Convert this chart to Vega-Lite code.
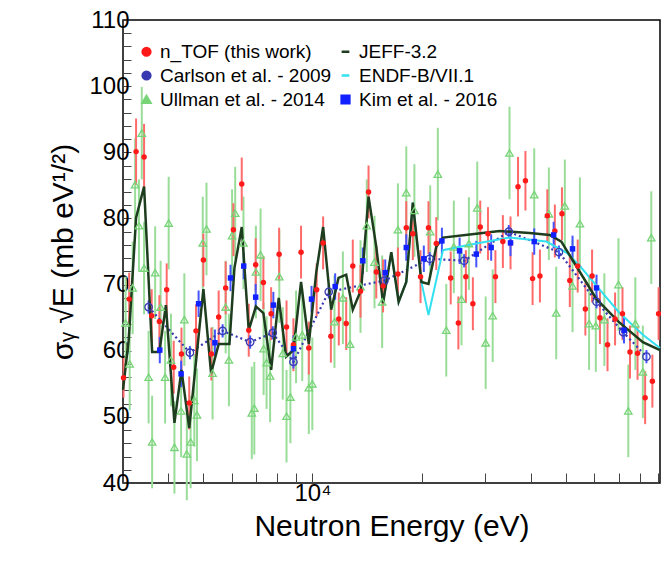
{
  "$schema": "https://vega.github.io/schema/vega-lite/v6.json",
  "width": 537,
  "height": 463,
  "autosize": "none",
  "padding": {"left": 123, "top": 20, "right": 1, "bottom": 83},
  "background": "white",
  "config": {
    "view": {"stroke": "black", "strokeWidth": 1.5},
    "font": "Liberation Sans"
  },
  "datasets": {
    "pts": [
      {"s": "n_TOF (this work)", "E": 3010, "v": 55.9, "e": 3},
      {"s": "n_TOF (this work)", "E": 3120, "v": 67.8, "e": 4},
      {"s": "n_TOF (this work)", "E": 3260, "v": 90.1, "e": 5},
      {"s": "n_TOF (this work)", "E": 3430, "v": 89.3, "e": 5},
      {"s": "n_TOF (this work)", "E": 3600, "v": 65.3, "e": 4},
      {"s": "n_TOF (this work)", "E": 3780, "v": 64.4, "e": 4},
      {"s": "n_TOF (this work)", "E": 3960, "v": 69.2, "e": 4},
      {"s": "n_TOF (this work)", "E": 4140, "v": 57.5, "e": 4},
      {"s": "n_TOF (this work)", "E": 4350, "v": 59.5, "e": 4},
      {"s": "n_TOF (this work)", "E": 4570, "v": 52.1, "e": 4},
      {"s": "n_TOF (this work)", "E": 4770, "v": 63.0, "e": 4},
      {"s": "n_TOF (this work)", "E": 5000, "v": 73.7, "e": 4},
      {"s": "n_TOF (this work)", "E": 5260, "v": 59.5, "e": 4},
      {"s": "n_TOF (this work)", "E": 5510, "v": 65.1, "e": 4},
      {"s": "n_TOF (this work)", "E": 5760, "v": 69.5, "e": 4},
      {"s": "n_TOF (this work)", "E": 6050, "v": 78.3, "e": 4},
      {"s": "n_TOF (this work)", "E": 6380, "v": 85.2, "e": 4},
      {"s": "n_TOF (this work)", "E": 6670, "v": 63.1, "e": 4},
      {"s": "n_TOF (this work)", "E": 6970, "v": 73.0, "e": 4},
      {"s": "n_TOF (this work)", "E": 7320, "v": 70.3, "e": 4},
      {"s": "n_TOF (this work)", "E": 7690, "v": 65.6, "e": 4},
      {"s": "n_TOF (this work)", "E": 8090, "v": 74.6, "e": 4},
      {"s": "n_TOF (this work)", "E": 8480, "v": 63.6, "e": 4},
      {"s": "n_TOF (this work)", "E": 8860, "v": 60.9, "e": 4},
      {"s": "n_TOF (this work)", "E": 9300, "v": 74.9, "e": 4},
      {"s": "n_TOF (this work)", "E": 9770, "v": 60.4, "e": 4},
      {"s": "n_TOF (this work)", "E": 10270, "v": 69.2, "e": 4},
      {"s": "n_TOF (this work)", "E": 10700, "v": 76.3, "e": 4},
      {"s": "n_TOF (this work)", "E": 11240, "v": 62.2, "e": 4},
      {"s": "n_TOF (this work)", "E": 11820, "v": 64.8, "e": 4},
      {"s": "n_TOF (this work)", "E": 12390, "v": 64.1, "e": 4},
      {"s": "n_TOF (this work)", "E": 12920, "v": 72.8, "e": 4},
      {"s": "n_TOF (this work)", "E": 13570, "v": 69.0, "e": 4},
      {"s": "n_TOF (this work)", "E": 14280, "v": 84.0, "e": 4},
      {"s": "n_TOF (this work)", "E": 15000, "v": 71.9, "e": 4},
      {"s": "n_TOF (this work)", "E": 15660, "v": 69.8, "e": 4},
      {"s": "n_TOF (this work)", "E": 17210, "v": 71.6, "e": 4},
      {"s": "n_TOF (this work)", "E": 18150, "v": 78.6, "e": 4},
      {"s": "n_TOF (this work)", "E": 18920, "v": 77.7, "e": 4},
      {"s": "n_TOF (this work)", "E": 19870, "v": 71.2, "e": 4},
      {"s": "n_TOF (this work)", "E": 20900, "v": 78.6, "e": 4},
      {"s": "n_TOF (this work)", "E": 21960, "v": 76.2, "e": 4},
      {"s": "n_TOF (this work)", "E": 24070, "v": 71.0, "e": 4},
      {"s": "n_TOF (this work)", "E": 25270, "v": 64.2, "e": 4},
      {"s": "n_TOF (this work)", "E": 26500, "v": 71.2, "e": 4},
      {"s": "n_TOF (this work)", "E": 27710, "v": 67.1, "e": 4},
      {"s": "n_TOF (this work)", "E": 29040, "v": 78.7, "e": 4},
      {"s": "n_TOF (this work)", "E": 30500, "v": 77.7, "e": 4},
      {"s": "n_TOF (this work)", "E": 31980, "v": 71.2, "e": 4},
      {"s": "n_TOF (this work)", "E": 33530, "v": 76.5, "e": 4},
      {"s": "n_TOF (this work)", "E": 35200, "v": 76.3, "e": 4},
      {"s": "n_TOF (this work)", "E": 36920, "v": 84.8, "e": 4.5},
      {"s": "n_TOF (this work)", "E": 38700, "v": 85.7, "e": 4.5},
      {"s": "n_TOF (this work)", "E": 40500, "v": 70.9, "e": 4},
      {"s": "n_TOF (this work)", "E": 42430, "v": 71.3, "e": 4},
      {"s": "n_TOF (this work)", "E": 44470, "v": 80.4, "e": 4},
      {"s": "n_TOF (this work)", "E": 46650, "v": 78.1, "e": 4},
      {"s": "n_TOF (this work)", "E": 48800, "v": 80.7, "e": 4},
      {"s": "n_TOF (this work)", "E": 51300, "v": 70.6, "e": 4},
      {"s": "n_TOF (this work)", "E": 53940, "v": 72.8, "e": 4},
      {"s": "n_TOF (this work)", "E": 56630, "v": 66.3, "e": 4},
      {"s": "n_TOF (this work)", "E": 59100, "v": 71.3, "e": 4},
      {"s": "n_TOF (this work)", "E": 62130, "v": 65.0, "e": 4},
      {"s": "n_TOF (this work)", "E": 65200, "v": 60.9, "e": 4},
      {"s": "n_TOF (this work)", "E": 68400, "v": 64.8, "e": 4},
      {"s": "n_TOF (this work)", "E": 71700, "v": 65.6, "e": 4},
      {"s": "n_TOF (this work)", "E": 75200, "v": 59.8, "e": 4},
      {"s": "n_TOF (this work)", "E": 78900, "v": 59.6, "e": 4},
      {"s": "n_TOF (this work)", "E": 82800, "v": 52.9, "e": 4},
      {"s": "n_TOF (this work)", "E": 86700, "v": 55.4, "e": 4},
      {"s": "n_TOF (this work)", "E": 90200, "v": 65.6, "e": 4},

      {"s": "Ullman et al. - 2014", "E": 3050, "v": 64.2, "e": 7},
      {"s": "Ullman et al. - 2014", "E": 3130, "v": 58.0, "e": 7},
      {"s": "Ullman et al. - 2014", "E": 3190, "v": 69.5, "e": 7},
      {"s": "Ullman et al. - 2014", "E": 3240, "v": 85.1, "e": 7},
      {"s": "Ullman et al. - 2014", "E": 3320, "v": 78.9, "e": 7},
      {"s": "Ullman et al. - 2014", "E": 3380, "v": 92.9, "e": 7},
      {"s": "Ullman et al. - 2014", "E": 3430, "v": 72.5, "e": 7},
      {"s": "Ullman et al. - 2014", "E": 3530, "v": 56.0, "e": 7},
      {"s": "Ullman et al. - 2014", "E": 3610, "v": 46.2, "e": 7},
      {"s": "Ullman et al. - 2014", "E": 3680, "v": 71.8, "e": 7},
      {"s": "Ullman et al. - 2014", "E": 3810, "v": 66.6, "e": 7},
      {"s": "Ullman et al. - 2014", "E": 3920, "v": 56.0, "e": 7},
      {"s": "Ullman et al. - 2014", "E": 4010, "v": 79.3, "e": 7},
      {"s": "Ullman et al. - 2014", "E": 4070, "v": 58.6, "e": 7},
      {"s": "Ullman et al. - 2014", "E": 4160, "v": 45.4, "e": 7},
      {"s": "Ullman et al. - 2014", "E": 4340, "v": 50.9, "e": 7},
      {"s": "Ullman et al. - 2014", "E": 4430, "v": 64.7, "e": 7},
      {"s": "Ullman et al. - 2014", "E": 4500, "v": 44.4, "e": 7},
      {"s": "Ullman et al. - 2014", "E": 4610, "v": 46.2, "e": 7},
      {"s": "Ullman et al. - 2014", "E": 4720, "v": 52.5, "e": 7},
      {"s": "Ullman et al. - 2014", "E": 4800, "v": 50.3, "e": 7},
      {"s": "Ullman et al. - 2014", "E": 4980, "v": 76.3, "e": 7},
      {"s": "Ullman et al. - 2014", "E": 5100, "v": 78.4, "e": 7},
      {"s": "Ullman et al. - 2014", "E": 5300, "v": 56.6, "e": 7},
      {"s": "Ullman et al. - 2014", "E": 5760, "v": 66.6, "e": 7},
      {"s": "Ullman et al. - 2014", "E": 5880, "v": 58.6, "e": 7},
      {"s": "Ullman et al. - 2014", "E": 6000, "v": 77.4, "e": 7},
      {"s": "Ullman et al. - 2014", "E": 6120, "v": 80.8, "e": 7},
      {"s": "Ullman et al. - 2014", "E": 6450, "v": 76.3, "e": 7},
      {"s": "Ullman et al. - 2014", "E": 6800, "v": 50.6, "e": 7},
      {"s": "Ullman et al. - 2014", "E": 6910, "v": 51.3, "e": 7},
      {"s": "Ullman et al. - 2014", "E": 6980, "v": 71.9, "e": 7},
      {"s": "Ullman et al. - 2014", "E": 7190, "v": 74.5, "e": 7},
      {"s": "Ullman et al. - 2014", "E": 7330, "v": 60.3, "e": 7},
      {"s": "Ullman et al. - 2014", "E": 7470, "v": 58.2, "e": 7},
      {"s": "Ullman et al. - 2014", "E": 7640, "v": 56.2, "e": 7},
      {"s": "Ullman et al. - 2014", "E": 8100, "v": 71.2, "e": 7},
      {"s": "Ullman et al. - 2014", "E": 8280, "v": 59.6, "e": 7},
      {"s": "Ullman et al. - 2014", "E": 8480, "v": 50.1, "e": 7},
      {"s": "Ullman et al. - 2014", "E": 8690, "v": 53.0, "e": 7},
      {"s": "Ullman et al. - 2014", "E": 9010, "v": 62.1, "e": 7},
      {"s": "Ullman et al. - 2014", "E": 9370, "v": 62.4, "e": 7},
      {"s": "Ullman et al. - 2014", "E": 9770, "v": 54.4, "e": 7},
      {"s": "Ullman et al. - 2014", "E": 9990, "v": 55.0, "e": 7},
      {"s": "Ullman et al. - 2014", "E": 11500, "v": 64.4, "e": 7},
      {"s": "Ullman et al. - 2014", "E": 12130, "v": 68.0, "e": 7},
      {"s": "Ullman et al. - 2014", "E": 12700, "v": 61.0, "e": 7},
      {"s": "Ullman et al. - 2014", "E": 13570, "v": 69.7, "e": 7},
      {"s": "Ullman et al. - 2014", "E": 14120, "v": 78.9, "e": 7},
      {"s": "Ullman et al. - 2014", "E": 14830, "v": 73.4, "e": 7},
      {"s": "Ullman et al. - 2014", "E": 15570, "v": 67.4, "e": 7},
      {"s": "Ullman et al. - 2014", "E": 17210, "v": 78.3, "e": 7},
      {"s": "Ullman et al. - 2014", "E": 18150, "v": 83.9, "e": 7},
      {"s": "Ullman et al. - 2014", "E": 19110, "v": 81.2, "e": 7},
      {"s": "Ullman et al. - 2014", "E": 21130, "v": 78.0, "e": 7},
      {"s": "Ullman et al. - 2014", "E": 22180, "v": 86.7, "e": 7},
      {"s": "Ullman et al. - 2014", "E": 23400, "v": 63.1, "e": 7},
      {"s": "Ullman et al. - 2014", "E": 24550, "v": 75.7, "e": 7},
      {"s": "Ullman et al. - 2014", "E": 25780, "v": 67.8, "e": 7},
      {"s": "Ullman et al. - 2014", "E": 27020, "v": 76.2, "e": 7},
      {"s": "Ullman et al. - 2014", "E": 28490, "v": 81.6, "e": 7},
      {"s": "Ullman et al. - 2014", "E": 30060, "v": 61.2, "e": 7},
      {"s": "Ullman et al. - 2014", "E": 31430, "v": 65.3, "e": 7},
      {"s": "Ullman et al. - 2014", "E": 34970, "v": 89.9, "e": 7},
      {"s": "Ullman et al. - 2014", "E": 40920, "v": 83.6, "e": 7},
      {"s": "Ullman et al. - 2014", "E": 44910, "v": 80.7, "e": 7},
      {"s": "Ullman et al. - 2014", "E": 47060, "v": 65.7, "e": 7},
      {"s": "Ullman et al. - 2014", "E": 49700, "v": 81.9, "e": 7},
      {"s": "Ullman et al. - 2014", "E": 52200, "v": 69.8, "e": 7},
      {"s": "Ullman et al. - 2014", "E": 54700, "v": 79.2, "e": 7},
      {"s": "Ullman et al. - 2014", "E": 57990, "v": 64.1, "e": 7},
      {"s": "Ullman et al. - 2014", "E": 60520, "v": 63.8, "e": 7},
      {"s": "Ullman et al. - 2014", "E": 63900, "v": 64.7, "e": 7},
      {"s": "Ullman et al. - 2014", "E": 69890, "v": 70.0, "e": 7},
      {"s": "Ullman et al. - 2014", "E": 74400, "v": 50.9, "e": 7},
      {"s": "Ullman et al. - 2014", "E": 77800, "v": 64.1, "e": 7},
      {"s": "Ullman et al. - 2014", "E": 81600, "v": 56.8, "e": 7},
      {"s": "Ullman et al. - 2014", "E": 86100, "v": 77.1, "e": 7},

      {"s": "Kim et al. - 2016", "E": 3790, "v": 60.1, "e": 2},
      {"s": "Kim et al. - 2016", "E": 4340, "v": 56.5, "e": 2},
      {"s": "Kim et al. - 2016", "E": 4850, "v": 67.1, "e": 2},
      {"s": "Kim et al. - 2016", "E": 5380, "v": 61.2, "e": 2},
      {"s": "Kim et al. - 2016", "E": 5940, "v": 71.0, "e": 2},
      {"s": "Kim et al. - 2016", "E": 6460, "v": 72.8, "e": 2},
      {"s": "Kim et al. - 2016", "E": 6970, "v": 68.1, "e": 2},
      {"s": "Kim et al. - 2016", "E": 7800, "v": 66.9, "e": 2},
      {"s": "Kim et al. - 2016", "E": 8860, "v": 60.3, "e": 2},
      {"s": "Kim et al. - 2016", "E": 9940, "v": 67.8, "e": 2},
      {"s": "Kim et al. - 2016", "E": 11550, "v": 69.7, "e": 2},
      {"s": "Kim et al. - 2016", "E": 13770, "v": 73.6, "e": 2},
      {"s": "Kim et al. - 2016", "E": 15880, "v": 71.8, "e": 2},
      {"s": "Kim et al. - 2016", "E": 18150, "v": 75.6, "e": 2},
      {"s": "Kim et al. - 2016", "E": 20290, "v": 73.9, "e": 2},
      {"s": "Kim et al. - 2016", "E": 22760, "v": 76.6, "e": 2},
      {"s": "Kim et al. - 2016", "E": 25470, "v": 75.1, "e": 2},
      {"s": "Kim et al. - 2016", "E": 28320, "v": 74.6, "e": 2},
      {"s": "Kim et al. - 2016", "E": 31130, "v": 75.6, "e": 2},
      {"s": "Kim et al. - 2016", "E": 35200, "v": 76.3, "e": 2},
      {"s": "Kim et al. - 2016", "E": 40920, "v": 76.5, "e": 2},
      {"s": "Kim et al. - 2016", "E": 46300, "v": 77.5, "e": 2},
      {"s": "Kim et al. - 2016", "E": 52200, "v": 75.4, "e": 2},
      {"s": "Kim et al. - 2016", "E": 60800, "v": 69.5, "e": 2},
      {"s": "Kim et al. - 2016", "E": 72400, "v": 63.1, "e": 2},

      {"s": "Carlson et al. - 2009", "E": 3530, "v": 66.6, "e": 1},
      {"s": "Carlson et al. - 2009", "E": 4590, "v": 59.7, "e": 1},
      {"s": "Carlson et al. - 2009", "E": 5650, "v": 63.0, "e": 1},
      {"s": "Carlson et al. - 2009", "E": 6730, "v": 61.3, "e": 1},
      {"s": "Carlson et al. - 2009", "E": 7770, "v": 62.7, "e": 1},
      {"s": "Carlson et al. - 2009", "E": 8860, "v": 58.3, "e": 1},
      {"s": "Carlson et al. - 2009", "E": 11090, "v": 68.9, "e": 1},
      {"s": "Carlson et al. - 2009", "E": 15800, "v": 70.6, "e": 1},
      {"s": "Carlson et al. - 2009", "E": 21060, "v": 73.9, "e": 1},
      {"s": "Carlson et al. - 2009", "E": 26210, "v": 73.6, "e": 1},
      {"s": "Carlson et al. - 2009", "E": 34810, "v": 78.0, "e": 1},
      {"s": "Carlson et al. - 2009", "E": 47880, "v": 74.9, "e": 1},
      {"s": "Carlson et al. - 2009", "E": 60800, "v": 67.4, "e": 1},
      {"s": "Carlson et al. - 2009", "E": 72000, "v": 62.8, "e": 1},
      {"s": "Carlson et al. - 2009", "E": 83500, "v": 59.1, "e": 1}
    ],
    "lines": [
      {"s": "JEFF-3.2", "E": 3000, "v": 54.1},
      {"s": "JEFF-3.2", "E": 3110, "v": 61.6},
      {"s": "JEFF-3.2", "E": 3260, "v": 80.1},
      {"s": "JEFF-3.2", "E": 3430, "v": 84.8},
      {"s": "JEFF-3.2", "E": 3610, "v": 59.8},
      {"s": "JEFF-3.2", "E": 3780, "v": 59.8},
      {"s": "JEFF-3.2", "E": 3940, "v": 66.9},
      {"s": "JEFF-3.2", "E": 4160, "v": 49.1},
      {"s": "JEFF-3.2", "E": 4350, "v": 57.1},
      {"s": "JEFF-3.2", "E": 4570, "v": 48.3},
      {"s": "JEFF-3.2", "E": 4800, "v": 59.8},
      {"s": "JEFF-3.2", "E": 5000, "v": 69.3},
      {"s": "JEFF-3.2", "E": 5250, "v": 56.6},
      {"s": "JEFF-3.2", "E": 5510, "v": 61.0},
      {"s": "JEFF-3.2", "E": 5900, "v": 61.0},
      {"s": "JEFF-3.2", "E": 6090, "v": 72.5},
      {"s": "JEFF-3.2", "E": 6380, "v": 78.7},
      {"s": "JEFF-3.2", "E": 6670, "v": 63.1},
      {"s": "JEFF-3.2", "E": 6980, "v": 66.7},
      {"s": "JEFF-3.2", "E": 7320, "v": 65.7},
      {"s": "JEFF-3.2", "E": 7690, "v": 57.1},
      {"s": "JEFF-3.2", "E": 8070, "v": 68.0},
      {"s": "JEFF-3.2", "E": 8460, "v": 59.1},
      {"s": "JEFF-3.2", "E": 8860, "v": 60.1},
      {"s": "JEFF-3.2", "E": 9300, "v": 70.4},
      {"s": "JEFF-3.2", "E": 9770, "v": 61.0},
      {"s": "JEFF-3.2", "E": 10240, "v": 71.8},
      {"s": "JEFF-3.2", "E": 10700, "v": 78.7},
      {"s": "JEFF-3.2", "E": 11260, "v": 66.2},
      {"s": "JEFF-3.2", "E": 11800, "v": 71.0},
      {"s": "JEFF-3.2", "E": 12390, "v": 71.5},
      {"s": "JEFF-3.2", "E": 12920, "v": 66.2},
      {"s": "JEFF-3.2", "E": 13620, "v": 69.2},
      {"s": "JEFF-3.2", "E": 14280, "v": 83.3},
      {"s": "JEFF-3.2", "E": 15000, "v": 75.7},
      {"s": "JEFF-3.2", "E": 15660, "v": 67.2},
      {"s": "JEFF-3.2", "E": 16500, "v": 74.9},
      {"s": "JEFF-3.2", "E": 17290, "v": 67.4},
      {"s": "JEFF-3.2", "E": 18150, "v": 70.4},
      {"s": "JEFF-3.2", "E": 18920, "v": 82.4},
      {"s": "JEFF-3.2", "E": 19980, "v": 70.4},
      {"s": "JEFF-3.2", "E": 20900, "v": 70.1},
      {"s": "JEFF-3.2", "E": 21960, "v": 75.7},
      {"s": "JEFF-3.2", "E": 22910, "v": 77.1},
      {"s": "JEFF-3.2", "E": 28320, "v": 77.7},
      {"s": "JEFF-3.2", "E": 32830, "v": 78.1},
      {"s": "JEFF-3.2", "E": 39720, "v": 77.8},
      {"s": "JEFF-3.2", "E": 45170, "v": 77.5},
      {"s": "JEFF-3.2", "E": 48620, "v": 76.5},
      {"s": "JEFF-3.2", "E": 54700, "v": 71.9},
      {"s": "JEFF-3.2", "E": 60800, "v": 67.8},
      {"s": "JEFF-3.2", "E": 69890, "v": 64.4},
      {"s": "JEFF-3.2", "E": 81600, "v": 61.3},
      {"s": "JEFF-3.2", "E": 91000, "v": 60.1},
      {"s": "ENDF-B/VII.1", "E": 15660, "v": 67.2},
      {"s": "ENDF-B/VII.1", "E": 16500, "v": 74.9},
      {"s": "ENDF-B/VII.1", "E": 17290, "v": 67.4},
      {"s": "ENDF-B/VII.1", "E": 18150, "v": 70.4},
      {"s": "ENDF-B/VII.1", "E": 18920, "v": 82.4},
      {"s": "ENDF-B/VII.1", "E": 19980, "v": 70.4},
      {"s": "ENDF-B/VII.1", "E": 20900, "v": 65.4},
      {"s": "ENDF-B/VII.1", "E": 22910, "v": 75.2},
      {"s": "ENDF-B/VII.1", "E": 28320, "v": 76.2},
      {"s": "ENDF-B/VII.1", "E": 34970, "v": 77.1},
      {"s": "ENDF-B/VII.1", "E": 44200, "v": 76.5},
      {"s": "ENDF-B/VII.1", "E": 50300, "v": 74.8},
      {"s": "ENDF-B/VII.1", "E": 54700, "v": 72.8},
      {"s": "ENDF-B/VII.1", "E": 62130, "v": 69.2},
      {"s": "ENDF-B/VII.1", "E": 69890, "v": 65.9},
      {"s": "ENDF-B/VII.1", "E": 81600, "v": 62.4},
      {"s": "ENDF-B/VII.1", "E": 91000, "v": 60.4}
    ]
  },
  "encoding": {
    "x": {
      "field": "E", "type": "quantitative",
      "scale": {"type": "log", "domain": [3000, 91000], "nice": false},
      "title": "Neutron Energy (eV)",
      "axis": {
        "values": [3000, 4000, 5000, 6000, 7000, 8000, 9000, 10000, 20000, 30000, 40000, 50000, 60000, 70000, 80000, 90000],
        "labelExpr": "datum.value == 10000 ? '10⁴' : ''",
        "labelFontSize": 24, "labelColor": "black", "labelPadding": 8,
        "tickSize": -10, "tickColor": "#444", "domain": false, "grid": false,
        "titleFontSize": 30, "titleFontWeight": "normal", "titleColor": "black", "titlePadding": 6
      }
    },
    "y": {
      "field": "v", "type": "quantitative",
      "scale": {"domain": [40, 110], "nice": false, "zero": false},
      "title": "σᵧ √E (mb eV¹/²)",
      "axis": {
        "values": [40, 42, 44, 46, 48, 50, 52, 54, 56, 58, 60, 62, 64, 66, 68, 70, 72, 74, 76, 78, 80, 82, 84, 86, 88, 90, 92, 94, 96, 98, 100, 102, 104, 106, 108, 110],
        "labelExpr": "datum.value % 10 == 0 ? datum.value : ''",
        "labelFontSize": 24, "labelColor": "black", "labelPadding": 2,
        "tickSize": -8, "tickColor": "#444", "domain": false, "grid": false,
        "titleFontSize": 30, "titleFontWeight": "normal", "titleColor": "black", "titlePadding": 10
      }
    }
  },
  "layer": [
    {
      "data": {"name": "pts"},
      "transform": [{"filter": "datum.s == 'Ullman et al. - 2014'"}],
      "mark": {"type": "errorbar", "color": "#99dd99", "thickness": 2},
      "encoding": {"yError": {"field": "e"}}
    },
    {
      "data": {"name": "pts"},
      "transform": [{"filter": "datum.s == 'n_TOF (this work)'"}],
      "mark": {"type": "errorbar", "color": "#ff6a6a", "thickness": 2},
      "encoding": {"yError": {"field": "e"}}
    },
    {
      "data": {"name": "pts"},
      "transform": [{"filter": "datum.s == 'Kim et al. - 2016' || datum.s == 'Carlson et al. - 2009'"}],
      "mark": {"type": "errorbar", "color": "#4455ff", "thickness": 2},
      "encoding": {"yError": {"field": "e"}}
    },
    {
      "data": {"name": "pts"},
      "transform": [{"filter": "datum.s == 'Carlson et al. - 2009'"}],
      "mark": {"type": "line", "color": "#3838b0", "strokeWidth": 2.2, "strokeDash": [2, 3]},
      "encoding": {}
    },
    {
      "data": {"name": "lines"},
      "transform": [{"filter": "datum.s == 'ENDF-B/VII.1'"}],
      "mark": {"type": "line", "strokeWidth": 2},
      "encoding": {"color": {"field": "s", "type": "nominal"}}
    },
    {
      "data": {"name": "lines"},
      "transform": [{"filter": "datum.s == 'JEFF-3.2'"}],
      "mark": {"type": "line", "strokeWidth": 2.5},
      "encoding": {"color": {"field": "s", "type": "nominal"}}
    },
    {
      "data": {"name": "pts"},
      "transform": [{"filter": "datum.s == 'Ullman et al. - 2014' || datum.s == 'Carlson et al. - 2009'"}],
      "mark": {"type": "point", "filled": false, "strokeWidth": 1.3, "size": 55, "opacity": 1},
      "encoding": {
        "color": {"field": "s", "type": "nominal"},
        "shape": {"field": "s", "type": "nominal"}
      }
    },
    {
      "data": {"name": "pts"},
      "transform": [{"filter": "datum.s == 'n_TOF (this work)' || datum.s == 'Kim et al. - 2016'"}],
      "mark": {"type": "point", "filled": true, "size": 30, "opacity": 1},
      "encoding": {
        "color": {
          "field": "s", "type": "nominal",
          "scale": {
            "domain": ["n_TOF (this work)", "Carlson et al. - 2009", "Ullman et al. - 2014", "JEFF-3.2", "ENDF-B/VII.1", "Kim et al. - 2016"],
            "range": ["#ff1a1a", "#3838b0", "#77d477", "#1e3d1e", "#33e0f0", "#1020ff"]
          },
          "legend": {
            "title": null, "orient": "none", "legendX": 14, "legendY": 22,
            "columns": 2, "columnPadding": 4, "rowPadding": 4,
            "labelFontSize": 19, "labelColor": "black", "symbolSize": 60,
            "symbolStrokeWidth": 2.5, "labelLimit": 300
          }
        },
        "shape": {
          "field": "s", "type": "nominal",
          "scale": {
            "domain": ["n_TOF (this work)", "Carlson et al. - 2009", "Ullman et al. - 2014", "JEFF-3.2", "ENDF-B/VII.1", "Kim et al. - 2016"],
            "range": ["circle", "circle", "triangle-up", "stroke", "stroke", "square"]
          }
        }
      }
    }
  ]
}
